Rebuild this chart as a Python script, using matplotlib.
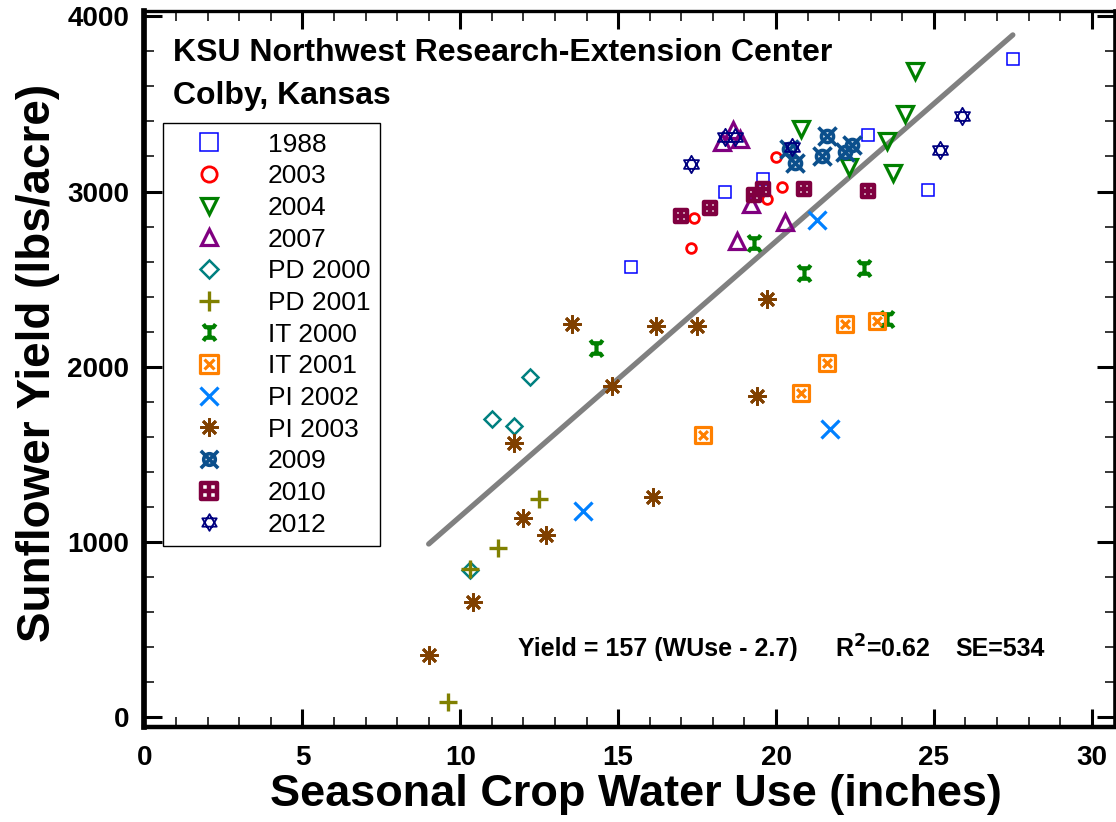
import matplotlib
matplotlib.use('Agg')
import matplotlib.pyplot as plt
from matplotlib.path import Path
from matplotlib.ticker import MultipleLocator

plt.rcParams['font.family'] = ['Liberation Sans', 'DejaVu Sans']

# --- data: seasonal water use (in) and yield (lbs/acre) ---
x_1988 = [15.4, 18.4, 19.6, 22.9, 24.8, 27.5]
y_1988 = [2570, 3000, 3070, 3325, 3010, 3755]

x_2003 = [17.3, 17.4, 19.7, 20.2, 20.0]
y_2003 = [2680, 2850, 2955, 3025, 3195]

x_2004 = [20.8, 22.3, 23.5, 23.7, 24.1, 24.4]
y_2004 = [3355, 3140, 3290, 3105, 3440, 3690]

x_2007 = [18.3, 18.65, 18.85, 19.2, 20.3, 18.75]
y_2007 = [3280, 3350, 3300, 2930, 2825, 2720]

x_pd2000 = [10.3, 11.0, 11.7, 12.2]
y_pd2000 = [840, 1700, 1660, 1940]

x_pd2001 = [9.6, 10.3, 11.2, 12.5]
y_pd2001 = [90, 845, 965, 1245]

x_it2000 = [14.3, 19.3, 20.9, 22.8, 23.5]
y_it2000 = [2110, 2705, 2535, 2565, 2270]

x_it2001 = [17.7, 20.8, 21.6, 22.2, 23.2]
y_it2001 = [1610, 1850, 2020, 2245, 2260]

x_pi2002 = [13.9, 21.3, 21.7]
y_pi2002 = [1180, 2835, 1645]

x_pi2003 = [9.0, 10.4, 11.7, 12.0, 12.7, 13.55, 14.8, 16.1, 16.2, 17.5, 19.4, 19.7]
y_pi2003 = [355, 660, 1565, 1135, 1040, 2245, 1890, 1260, 2230, 2230, 1835, 2385]

x_2009 = [20.4, 20.6, 21.45, 21.6, 22.2, 22.4]
y_2009 = [3245, 3160, 3205, 3315, 3225, 3265]

x_2010 = [17.0, 17.9, 19.3, 19.6, 20.9, 22.9]
y_2010 = [2860, 2905, 2980, 3015, 3015, 3005]

x_2012 = [17.3, 18.4, 18.7, 20.5, 25.2, 25.9]
y_2012 = [3155, 3310, 3310, 3255, 3235, 3430]

# regression: Yield = 157 (WUse - 2.7), drawn over the observed range
SLOPE = 157
X_OFFSET = 2.7
FIT_RANGE = [9.0, 27.5]

M, L, C = Path.MOVETO, Path.LINETO, Path.CLOSEPOLY

# custom marker shapes
BOX_X = Path(
    [(-1, -1), (1, -1), (1, 1), (-1, 1), (-1, -1),
     (-0.55, -0.55), (0.55, 0.55), (-0.55, 0.55), (0.55, -0.55)],
    [M, L, L, L, C, M, L, M, L])
CIRCLE_X = Path.make_compound_path(
    Path.circle((0, 0), 0.6),
    Path([(-0.9, -0.9), (0.9, 0.9), (-0.9, 0.9), (0.9, -0.9)], [M, L, M, L]))
SQUARE_PLUS = Path(
    [(-0.8, -0.8), (0.8, -0.8), (0.8, 0.8), (-0.8, 0.8), (-0.8, -0.8),
     (-1, 0), (1, 0), (0, -1), (0, 1)],
    [M, L, L, L, C, M, L, M, L])
STAR_DAVID = Path(
    [(0, 1), (-0.866, -0.5), (0.866, -0.5), (0, 1),
     (0, -1), (-0.866, 0.5), (0.866, 0.5), (0, -1)],
    [M, L, L, C, M, L, L, C])
BONE = Path(
    [(0, -0.7), (0, 0.7),
     (-0.7, 0.95), (-0.45, 0.6), (0.45, 0.6), (0.7, 0.95),
     (-0.7, -0.95), (-0.45, -0.6), (0.45, -0.6), (0.7, -0.95)],
    [M, L, M, L, L, L, M, L, L, L])

# label, x, y, marker, colour, size in plot, size in legend, edge width
series = [
    ('1988', x_1988, y_1988, 's', '#0000ff', 8.8, 12.5, 1.1),
    ('2003', x_2003, y_2003, 'o', '#ff0000', 7.0, 11.0, 2.0),
    ('2004', x_2004, y_2004, 'v', '#008000', 11.0, 11.5, 2.3),
    ('2007', x_2007, y_2007, '^', '#800080', 11.0, 11.5, 2.3),
    ('PD 2000', x_pd2000, y_pd2000, 'D', '#008080', 8.0, 9.0, 1.8),
    ('PD 2001', x_pd2001, y_pd2001, '+', '#808000', 12.5, 14.0, 2.4),
    ('IT 2000', x_it2000, y_it2000, BONE, '#008000', 12.0, 12.0, 3.0),
    ('IT 2001', x_it2001, y_it2001, BOX_X, '#ff8000', 11.5, 13.0, 2.3),
    ('PI 2002', x_pi2002, y_pi2002, 'x', '#0080ff', 12.5, 13.0, 2.3),
    ('PI 2003', x_pi2003, y_pi2003, (8, 2, 0), '#804000', 13.0, 13.0, 2.0),
    ('2009', x_2009, y_2009, CIRCLE_X, '#0b4f8c', 13.0, 12.5, 2.6),
    ('2010', x_2010, y_2010, SQUARE_PLUS, '#800040', 11.5, 14.0, 3.2),
    ('2012', x_2012, y_2012, STAR_DAVID, '#000080', 12.5, 12.0, 1.3),
]

fig = plt.figure(figsize=(11.16, 8.22), dpi=100)
ax = fig.add_axes([144.5 / 1116, 1 - 727 / 822, 970 / 1116, 716 / 822])

# fitted line (drawn first so markers sit on top)
fit_y = [SLOPE * (v - X_OFFSET) for v in FIT_RANGE]
ax.plot(FIT_RANGE, fit_y, color='#808080', lw=3.8, solid_capstyle='round', zorder=2)

handles = []
for label, xs, ys, mk, col, ms, ms_leg, mew in series:
    h, = ax.plot(xs, ys, linestyle='none', marker=mk, markersize=ms,
                 markerfacecolor='none', markeredgecolor=col,
                 markeredgewidth=mew, label=label, zorder=3)
    handles.append(h)

ax.set_xlim(0, 30.72)
ax.set_ylim(-55, 4030)
ax.xaxis.set_major_locator(MultipleLocator(5))
ax.xaxis.set_minor_locator(MultipleLocator(1))
ax.yaxis.set_major_locator(MultipleLocator(1000))
ax.yaxis.set_minor_locator(MultipleLocator(200))

ax.tick_params(which='both', direction='in', top=True, right=True)
ax.tick_params(which='major', length=13, width=2.2, labelsize=20)
ax.tick_params(which='minor', length=7.5, width=1.1)
ax.tick_params(axis='x', which='major', pad=13)
ax.tick_params(axis='y', which='major', pad=11)
for t in ax.get_xticklabels() + ax.get_yticklabels():
    t.set_fontweight('bold')

for side, lw in [('left', 4.1), ('bottom', 3.2), ('top', 2.4), ('right', 2.6)]:
    ax.spines[side].set_linewidth(lw)

ax.set_xlabel('Seasonal Crop Water Use (inches)', fontsize=32.5, fontweight='bold', labelpad=2)
ax.set_ylabel('Sunflower Yield (lbs/acre)', fontsize=33, fontweight='bold', labelpad=5)
ax.xaxis.label.set_x(0.507)
ax.yaxis.label.set_y(0.508)

ax.text(0.029, 0.941, 'KSU Northwest Research-Extension Center', transform=ax.transAxes,
        fontsize=23, fontweight='bold', va='center', ha='left')
ax.text(0.029, 0.881, 'Colby, Kansas', transform=ax.transAxes,
        fontsize=23, fontweight='bold', va='center', ha='left')

ax.text(0.385, 0.109, 'Yield = 157 (WUse - 2.7)', transform=ax.transAxes,
        fontsize=18, fontweight='bold', va='center', ha='left')
ax.text(0.712, 0.109, 'R$^{\\mathbf{2}}$=0.62', transform=ax.transAxes,
        fontsize=18, fontweight='bold', va='center', ha='left')
ax.text(0.928, 0.109, 'SE=534', transform=ax.transAxes,
        fontsize=18, fontweight='bold', va='center', ha='right')

leg = ax.legend(handles=handles, loc='upper left', bbox_to_anchor=(0.0191, 0.8433),
                borderaxespad=0, fontsize=19, numpoints=1, fancybox=False,
                edgecolor='black', framealpha=1, borderpad=0.36,
                handlelength=2.8, handletextpad=0.8, labelspacing=0.29)
leg.get_frame().set_linewidth(1.0)
for lh, s in zip(leg.legend_handles, series):
    lh.set_markersize(s[6])

fig.savefig('out.png', dpi=100)
